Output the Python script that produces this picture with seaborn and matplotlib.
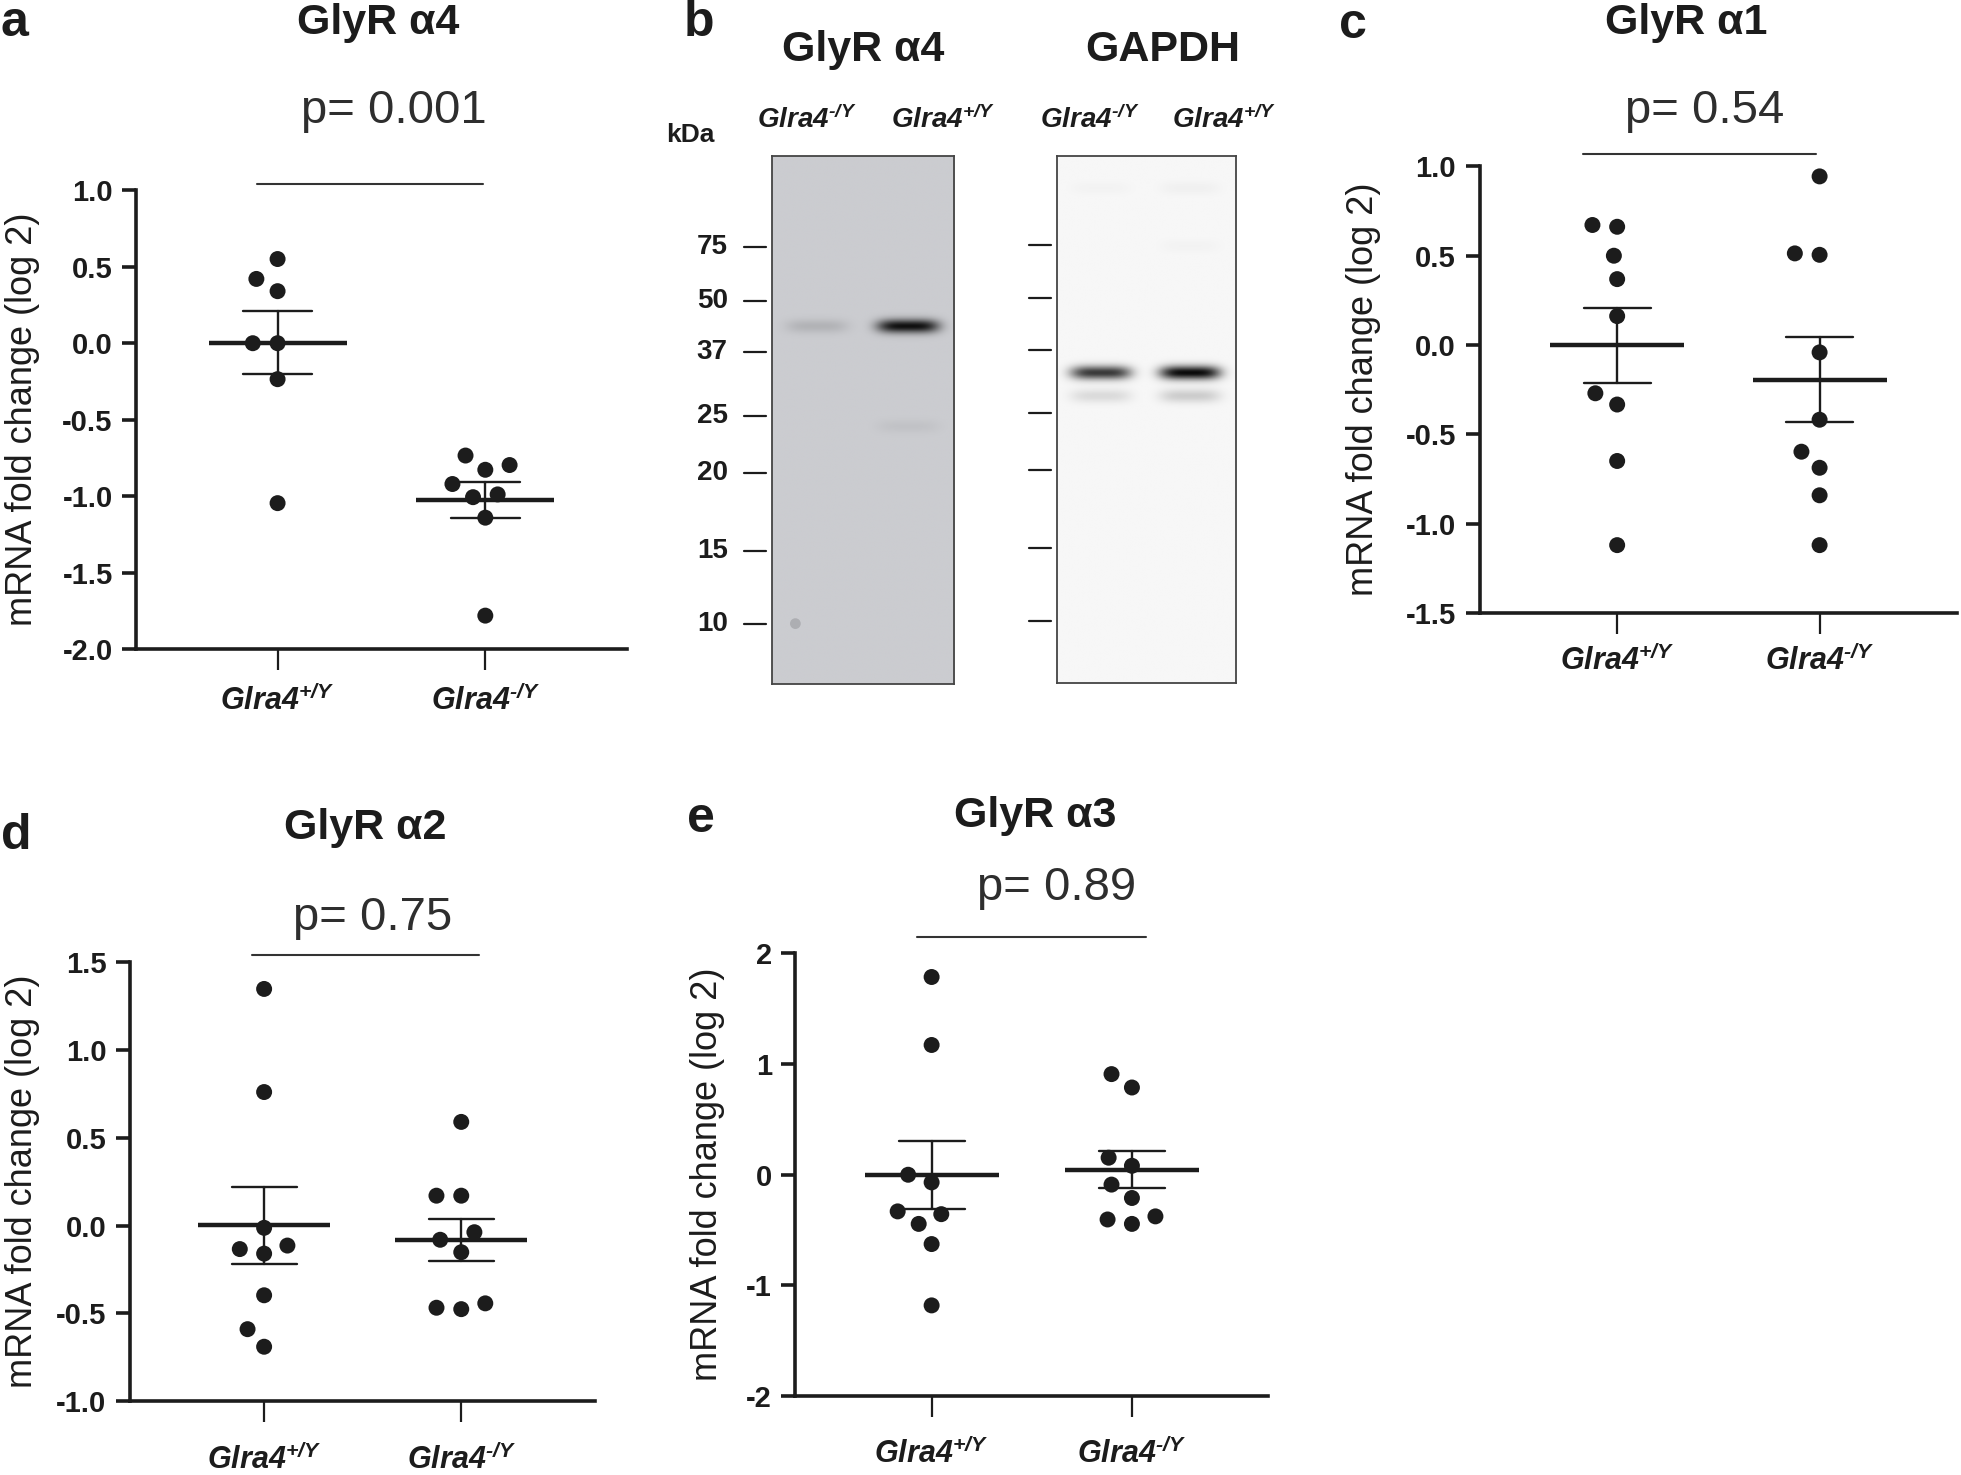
import numpy as np
import pandas as pd
import matplotlib
matplotlib.use('Agg')
from matplotlib import pyplot as plt
from matplotlib.colors import LinearSegmentedColormap
import seaborn as sns

# ---- values: mRNA fold change (log 2) ----
groups = ['WT', 'KO']
group_labels = [r'$Glra4^{\text{+/Y}}$', r'$Glra4^{\text{-/Y}}$']
blot_lanes = [r'$Glra4^{\text{-/Y}}$', r'$Glra4^{\text{+/Y}}$']

a4_wt = [0.55, 0.42, 0.34, 0.0, 0.0, -0.235, -1.045]
a4_ko = [-0.734, -0.827, -0.796, -0.92, -0.988, -1.006, -1.14, -1.78]
a1_wt = [0.662, 0.672, 0.50, 0.369, 0.162, -0.27, -0.333, -0.649, -1.12]
a1_ko = [0.944, 0.505, 0.513, -0.041, -0.418, -0.597, -0.687, -0.841, -1.12]
a2_wt = [1.347, 0.76, -0.013, -0.114, -0.134, -0.16, -0.397, -0.59, -0.69]
a2_ko = [0.59, 0.17, 0.17, -0.038, -0.081, -0.152, -0.476, -0.443, -0.468]
a3_wt = [1.786, 1.172, 0.0, -0.069, -0.356, -0.331, -0.444, -0.626, -1.18]
a3_ko = [0.909, 0.788, 0.154, 0.081, -0.089, -0.21, -0.376, -0.404, -0.444]

p_a, p_c, p_d, p_e = 'p= 0.001', 'p= 0.54', 'p= 0.75', 'p= 0.89'

ticks_a = [-2.0, -1.5, -1.0, -0.5, 0.0, 0.5, 1.0]
ticks_c = [-1.5, -1.0, -0.5, 0.0, 0.5, 1.0]
ticks_d = [-1.0, -0.5, 0.0, 0.5, 1.0, 1.5]
ticks_e = [-2, -1, 0, 1, 2]

# western blot: marker ladder and bands (lane, position, strength)
kda = ['75', '50', '37', '25', '20', '15', '10']
kda_pos = [0.172, 0.273, 0.371, 0.492, 0.600, 0.748, 0.886]
glyr_bands = [(0, 0.322, 0.13), (1, 0.322, 0.97), (1, 0.512, 0.05)]
gapdh_bands = [(0, 0.411, 0.80), (1, 0.411, 1.0), (0, 0.455, 0.12),
               (1, 0.455, 0.18), (0, 0.06, 0.02), (1, 0.06, 0.03), (1, 0.17, 0.02)]

sns.set_theme(style='ticks')
plt.rcParams['font.family'] = ['Liberation Sans', 'DejaVu Sans']
plt.rcParams['axes.unicode_minus'] = False
plt.rcParams['mathtext.fontset'] = 'custom'
plt.rcParams['mathtext.rm'] = 'Liberation Sans:italic:bold'
plt.rcParams['mathtext.it'] = 'Liberation Sans:italic:bold'
plt.rcParams['mathtext.bf'] = 'Liberation Sans:italic:bold'

W, H = 19.61, 14.75
fig = plt.figure(figsize=(W, H), dpi=100)
ink = '#1c1c1c'


def fx(px):
    return px / 1568


def fy(py):
    return 1 - py / 1179


def dot_panel(rect, wt, ko, ticks, fmt, ptext, ppos, line, label_pad, ylab_x):
    ax = fig.add_axes(rect)
    df = pd.DataFrame({'group': ['WT'] * len(wt) + ['KO'] * len(ko), 'value': wt + ko})
    sns.swarmplot(data=df, x='group', y='value', order=groups, color=ink, size=11.5,
                  linewidth=5.5, edgecolor='none', ax=ax, zorder=3)
    unit = rect[2] * W * 72 / 2.36
    sns.pointplot(data=df, x='group', y='value', order=groups, errorbar='se', capsize=0.33,
                  color=ink, linestyle='none', marker='_', markersize=0.665 * unit,
                  markeredgewidth=3.2, err_kws={'linewidth': 1.7, 'color': ink}, ax=ax)
    ax.set_xlim(-0.68, 1.68)
    ax.set_ylim(ticks[0], ticks[-1])
    ax.set_yticks(ticks)
    ax.set_yticklabels([fmt % t for t in ticks], fontsize=21, fontweight='bold', color=ink)
    ax.set_xticks([0, 1])
    ax.set_xticklabels(group_labels, fontsize=22, color=ink)
    ax.set_xlabel('')
    ax.set_ylabel('mRNA fold change (log 2)', fontsize=26, color=ink, va='center')
    ax.yaxis.set_label_coords(ylab_x, 0.5)
    sns.despine(ax=ax)
    for s in ['left', 'bottom']:
        ax.spines[s].set_linewidth(2.6)
        ax.spines[s].set_color(ink)
    ax.tick_params(axis='y', direction='out', length=10, width=2.6, pad=7, color=ink)
    ax.tick_params(axis='x', direction='out', length=15, width=1.6, pad=label_pad, color=ink)
    ax.plot(line[:2], [line[2], line[2]], color='#333333', lw=1.5, clip_on=False)
    ax.text(ppos[0], ppos[1], ptext, ha='center', va='center', fontsize=34, color='#2e2e2e')
    return ax


# a: GlyR a4
dot_panel([fx(109), fy(519), fx(501) - fx(109), fy(152) - fy(519)], a4_wt, a4_ko, ticks_a, '%.1f',
          p_a, (0.56, 1.52), (-0.10, 0.99, 1.04), 11, -0.232)
# c: GlyR a1
dot_panel([fx(1183), fy(490), fx(1565) - fx(1183), fy(133) - fy(490)], a1_wt, a1_ko, ticks_c, '%.1f',
          p_c, (0.43, 1.31), (-0.17, 0.98, 1.07), 8, -0.243)
# d: GlyR a2
dot_panel([fx(104), fy(1120), fx(476) - fx(104), fy(769) - fy(1120)], a2_wt, a2_ko, ticks_d, '%.1f',
          p_d, (0.55, 1.75), (-0.06, 1.09, 1.543), 16, -0.231)
# e: GlyR a3
dot_panel([fx(636), fy(1116), fx(1014) - fx(636), fy(762) - fy(1116)], a3_wt, a3_ko, ticks_e, '%d',
          p_e, (0.625, 2.59), (-0.075, 1.07, 2.148), 15, -0.185)


def blot_panel(rect, bg, bands):
    ax = fig.add_axes(rect)
    cmap = LinearSegmentedColormap.from_list('blot', ['#0a0a0a', bg])
    yy, xx = np.mgrid[0:1:700j, 0:1:240j]
    img = np.ones_like(xx)
    lane_x = [0.245, 0.745]
    for lane, pos, strength in bands:
        img -= strength * np.exp(-((xx - lane_x[lane]) / 0.17) ** 4) * np.exp(-((yy - pos) / 0.013) ** 2)
    ax.imshow(np.clip(img, 0, 1), cmap=cmap, vmin=0, vmax=1, extent=(0, 1, 1, 0),
              aspect='auto', interpolation='bilinear')
    ax.set_xlim(0, 1)
    ax.set_ylim(1, 0)
    ax.set_xticks([])
    ax.set_yticks([])
    for s in ax.spines.values():
        s.set_linewidth(1.3)
        s.set_color('#444444')
    return ax


left = blot_panel([fx(617), fy(547), fx(763) - fx(617), fy(125) - fy(547)], '#cbccd0', glyr_bands)
right = blot_panel([fx(845), fy(546), fx(988) - fx(845), fy(125) - fy(546)], '#f7f7f7', gapdh_bands)
# faint spot near the bottom of the first lane
left.scatter([0.13], [0.885], s=60, color='#9a9b9f', alpha=0.6, edgecolor='none')
for pos, lab in zip(kda_pos, kda):
    left.plot([-0.15, -0.03], [pos, pos], color=ink, lw=1.6, clip_on=False)
    left.text(-0.24, pos, lab, ha='right', va='center', fontsize=20, fontweight='bold', color=ink)
    right.plot([-0.155, -0.035], [pos - 0.004, pos - 0.004], color=ink, lw=1.6, clip_on=False)

# blot and panel text
fig.text(fx(552), fy(108), 'kDa', ha='center', va='center', fontsize=19, fontweight='bold', color=ink)
for x, lab in zip([645, 754, 871, 979], blot_lanes + blot_lanes):
    fig.text(fx(x), fy(96), lab, ha='center', va='center', fontsize=20, color=ink)
fig.text(fx(690), fy(40), 'GlyR α4', ha='center', va='center', fontsize=31, fontweight='bold', color=ink)
fig.text(fx(930), fy(40), 'GAPDH', ha='center', va='center', fontsize=31, fontweight='bold', color=ink)

titles = [(302, 18, 'GlyR α4'), (1348, 18, 'GlyR α1'), (292, 662, 'GlyR α2'), (828, 652, 'GlyR α3')]
for x, y, t in titles:
    fig.text(fx(x), fy(y), t, ha='center', va='center', fontsize=31, fontweight='bold', color=ink)
letters = [(0, 18, 'a'), (547, 18, 'b'), (1071, 20, 'c'), (1, 668, 'd'), (549, 655, 'e')]
for x, y, t in letters:
    fig.text(fx(x), fy(y), t, ha='left', va='center', fontsize=36, fontweight='bold', color=ink)

fig.savefig('out.png', dpi=100)
